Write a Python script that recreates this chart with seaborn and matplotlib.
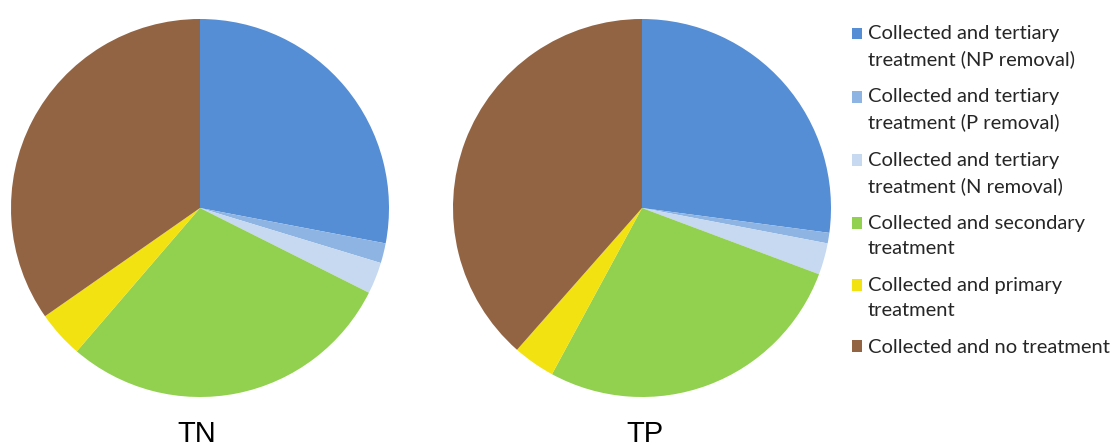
import numpy as np
import matplotlib
matplotlib.use("Agg")
import matplotlib.pyplot as plt
import seaborn as sns
from matplotlib.patches import Patch, Rectangle
from matplotlib.legend_handler import HandlerPatch

# Data (shares in %)
categories = [
    "Collected and tertiary\ntreatment (NP removal)",
    "Collected and tertiary\ntreatment (P removal)",
    "Collected and tertiary\ntreatment (N removal)",
    "Collected and secondary\ntreatment",
    "Collected and primary\ntreatment",
    "Collected and no treatment",
]
tn_values = [28.0, 1.7, 2.7, 28.9, 4.0, 34.7]
tp_values = [27.1, 0.9, 2.7, 27.2, 3.6, 38.5]
titles = ["TN", "TP"]

sns.set_style("white")
colors = sns.color_palette(["#558ED5", "#8EB4E3", "#C6D9F1",
                            "#92D050", "#F2E212", "#926443"])

W, H = 1112, 446
fig = plt.figure(figsize=(W / 100, H / 100), dpi=100)

r = 189
centers = [(200, 208), (642, 208)]
title_x = [197, 645]
for (cx, cy), vals, title, tx in zip(centers, [tn_values, tp_values], titles, title_x):
    ax = fig.add_axes([(cx - r) / W, (H - cy - r) / H, 2 * r / W, 2 * r / H])
    ax.pie(vals, colors=colors, startangle=90, counterclock=False,
           wedgeprops=dict(linewidth=0))
    ax.set_xlim(-1, 1)
    ax.set_ylim(-1, 1)
    ax.set_aspect("equal")
    ax.axis("off")
    fig.text(tx / W, (H - 442) / H, title, ha="center", va="baseline",
             fontsize=21, family="Liberation Sans", color="#000000")

# legend squares sit on the first text line of two-line entries
handles = [Patch(facecolor=c, edgecolor="none", label=lab)
           for c, lab in zip(colors, categories)]


def top_square(legend, orig_handle, xdescent, ydescent, width, height, fontsize):
    shift = 9.4 if "\n" in orig_handle.get_label() else 0
    return Rectangle((-xdescent, -ydescent + shift), width, height)


leg = fig.legend(handles, categories, loc="upper left",
                 bbox_to_anchor=(852 / W, (H - 25) / H),
                 frameon=False, prop=dict(family="Lato", size=14.5),
                 handlelength=0.5, handleheight=0.5, handletextpad=0.3,
                 labelspacing=1.0, borderaxespad=0, borderpad=0,
                 handler_map={Patch: HandlerPatch(patch_func=top_square)})
for t in leg.get_texts():
    t.set_linespacing(1.56)
    t.set_color("#262626")

fig.savefig("out.png", dpi=100)
